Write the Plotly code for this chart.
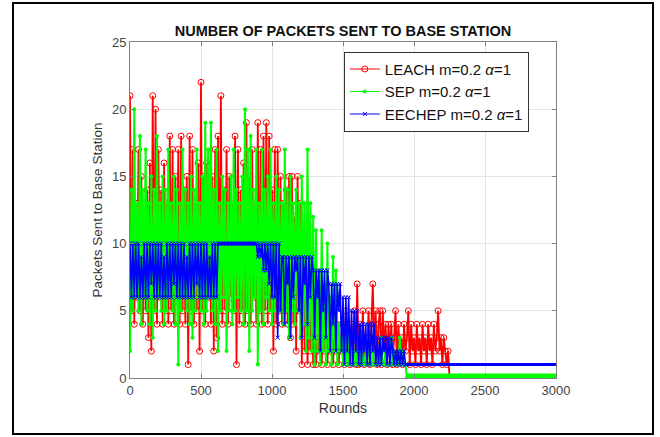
import plotly.graph_objects as go

# packets per round, every 10 rounds
leach_rounds = list(range(0, 2250, 10)) + [2250, 3000]
leach_packets = [
    21, 5, 17, 4, 13, 6, 17, 5, 15, 4,
    12, 5, 14, 3, 16, 2, 21, 5, 20, 4,
    17, 6, 14, 4, 16, 5, 13, 4, 18, 5,
    17, 4, 15, 6, 17, 4, 18, 5, 14, 4,
    15, 1, 18, 5, 17, 4, 13, 5, 16, 2,
    22, 5, 15, 4, 16, 6, 13, 4, 15, 2,
    17, 3, 18, 5, 21, 4, 14, 5, 17, 4,
    15, 6, 13, 5, 18, 1, 17, 4, 14, 5,
    16, 4, 19, 5, 15, 4, 17, 6, 13, 4,
    19, 5, 17, 4, 18, 5, 19, 4, 18, 5,
    14, 2, 17, 4, 17, 5, 15, 4, 13, 5,
    14, 4, 15, 3, 15, 4, 12, 2, 15, 5,
    13, 1, 10, 2, 8, 1, 6, 2, 5, 1,
    4, 1, 3, 2, 5, 1, 4, 2, 3, 1,
    4, 2, 5, 1, 3, 2, 4, 1, 3, 2,
    4, 1, 5, 2, 3, 1, 4, 2, 5, 1,
    7, 1, 4, 2, 5, 1, 3, 2, 5, 1,
    4, 7, 2, 5, 1, 4, 5, 1, 5, 2,
    4, 1, 4, 2, 4, 1, 3, 5, 1, 4,
    2, 3, 1, 4, 2, 3, 5, 1, 4, 2,
    3, 1, 4, 2, 3, 1, 4, 2, 3, 1,
    4, 2, 3, 1, 4, 2, 3, 5, 2, 3,
    1, 3, 2, 1, 2,
    0, 0,
]

sep_rounds = list(range(0, 1950, 10)) + [1950]
sep_packets = [
    2, 14, 5, 20, 6, 13, 5, 18, 4, 14,
    6, 17, 5, 13, 4, 15, 3, 14, 5, 18,
    6, 13, 5, 15, 4, 14, 5, 17, 6, 13,
    5, 15, 4, 14, 1, 13, 5, 17, 6, 14,
    5, 13, 4, 15, 3, 14, 5, 17, 6, 13,
    5, 15, 4, 19, 5, 17, 6, 19, 5, 14,
    4, 17, 2, 13, 5, 15, 6, 14, 2, 13,
    5, 15, 4, 17, 5, 14, 6, 13, 5, 15,
    4, 20, 5, 17, 2, 18, 5, 14, 6, 17,
    1, 13, 5, 17, 4, 14, 6, 15, 5, 17,
    4, 13, 5, 15, 6, 14, 5, 13, 4, 17,
    5, 14, 3, 15, 5, 13, 4, 14, 5, 13,
    3, 15, 4, 13, 2, 17, 3, 13, 2, 12,
    1, 11, 2, 8, 1, 11, 2, 7, 1, 10,
    2, 6, 1, 9, 2, 8, 1, 4, 2, 3,
    1, 3, 1, 4, 1, 2, 1, 3, 1, 2,
    1, 3, 1, 2, 1, 1, 2, 1, 3, 1,
    1, 2, 1, 1, 1, 2, 1, 3, 1, 1,
    2, 1, 1, 1, 3, 1, 2, 1, 1, 1,
    3, 1, 2, 1, 1,
    0,
]
sep_tail_rounds = [1950, 3000]
sep_tail_packets = [0, 0]

eechep_rounds = list(range(0, 1950, 10)) + [1950]
eechep_packets = [
    10, 6, 10, 6, 10, 6, 10, 6, 9, 6,
    10, 6, 10, 6, 10, 7, 10, 6, 10, 6,
    10, 6, 10, 6, 9, 6, 10, 6, 10, 6,
    10, 7, 10, 6, 10, 6, 10, 6, 10, 6,
    9, 6, 10, 6, 10, 6, 10, 7, 10, 6,
    10, 6, 10, 6, 10, 6, 9, 6, 10, 6,
    10, 6,
    10, 10, 10, 10, 10, 10, 10, 10, 10, 10,
    10, 10, 10, 10, 10, 10, 10, 10, 10, 10,
    10, 10, 10, 10, 10, 10, 10,
    10, 9, 10, 9, 10, 8, 10, 8, 10, 7,
    10, 6, 10, 6, 10, 3, 10, 5,
    9, 9, 4, 9, 7, 9, 3, 9, 6, 9,
    8, 9, 5, 9, 3, 9, 7, 9, 4, 9,
    6, 9,
    8, 3, 8, 6, 8, 2, 8, 5, 8, 3, 8,
    7, 2, 7, 4, 7, 2, 7, 5, 7, 2,
    6, 1, 6, 2, 6, 1,
    5, 1, 5, 2, 5, 1,
    4, 1, 4, 2, 4, 1, 4, 1, 4, 2, 4, 1,
    3, 1, 3, 1, 3, 2, 3, 1, 3, 1, 3,
    2, 1, 2, 1, 2, 1, 2, 1, 2, 1,
    1,
]
eechep_tail_rounds = [1950, 3000]
eechep_tail_packets = [1, 1]

names = ['LEACH m=0.2 <i>α</i>=1', 'SEP m=0.2 <i>α</i>=1', 'EECHEP m=0.2 <i>α</i>=1']
colors = ['#ff0000', '#00ff00', '#0000ff']
markers = [dict(symbol='circle-open', size=6, line=dict(width=1)),
           dict(symbol='circle', size=4),
           dict(symbol='x-thin-open', size=4, line=dict(width=1))]

fig = go.Figure()

fig.add_trace(go.Scatter(
    x=leach_rounds, y=leach_packets, mode='lines+markers', showlegend=False,
    line=dict(color=colors[0], width=1.8),
    marker=dict(markers[0], color=colors[0]),
))
fig.add_trace(go.Scatter(
    x=sep_rounds, y=sep_packets, mode='lines+markers', showlegend=False,
    line=dict(color=colors[1], width=2),
    marker=dict(markers[1], color=colors[1]),
))
fig.add_trace(go.Scatter(
    x=sep_tail_rounds, y=sep_tail_packets, mode='lines',
    showlegend=False, line=dict(color=colors[1], width=9),
))
fig.add_trace(go.Scatter(
    x=eechep_rounds, y=eechep_packets, mode='lines+markers', showlegend=False,
    line=dict(color=colors[2], width=1.6),
    marker=dict(markers[2], color=colors[2], line=dict(width=1, color=colors[2])),
))
fig.add_trace(go.Scatter(
    x=eechep_tail_rounds, y=eechep_tail_packets, mode='lines',
    showlegend=False, line=dict(color=colors[2], width=3),
))

# thin legend entries, like the MATLAB legend
for name, color, marker in zip(names, colors, markers):
    fig.add_trace(go.Scatter(
        x=[None], y=[None], mode='lines+markers', name=name,
        line=dict(color=color, width=1),
        marker=dict(marker, color=color),
    ))

axis_style = dict(
    showgrid=True, gridcolor='#e3e3e3', gridwidth=1,
    showline=True, linecolor='#808080', linewidth=1, mirror='ticks',
    ticks='inside', ticklen=4, tickcolor='#808080',
    tickfont=dict(size=13, color='#444444'),
    zeroline=False,
)

fig.update_layout(
    width=660, height=437,
    paper_bgcolor='white', plot_bgcolor='white',
    font=dict(family='Liberation Sans, Arial, sans-serif', color='#333333'),
    margin=dict(l=130, r=104, t=42, b=59),
    title=dict(text='<b>NUMBER OF PACKETS SENT TO BASE STATION</b>',
               x=0.5, xref='paper', xanchor='center', y=0.929, yanchor='middle',
               font=dict(size=14.5, color='#111111')),
    xaxis=dict(axis_style, range=[0, 3000], dtick=500,
               title=dict(text='Rounds', font=dict(size=14, color='#333333'), standoff=6)),
    yaxis=dict(axis_style, range=[0, 25], dtick=5,
               title=dict(text='Packets Sent to Base Station', font=dict(size=13.5, color='#333333'), standoff=6)),
    legend=dict(x=0.502, y=0.971, xanchor='left', yanchor='top',
                bgcolor='white', bordercolor='#333333', borderwidth=1,
                font=dict(size=15, color='#111111'), tracegroupgap=0),
    showlegend=True,
)

# outer figure frame
fig.add_shape(type='rect', xref='paper', yref='paper',
              x0=-0.2746, x1=1.2277, y0=-0.1667, y1=1.116,
              line=dict(color='black', width=2), fillcolor='rgba(0,0,0,0)')

fig.write_html("out.html", config={'displayModeBar': False},
               post_script="document.body.style.margin='0';")
